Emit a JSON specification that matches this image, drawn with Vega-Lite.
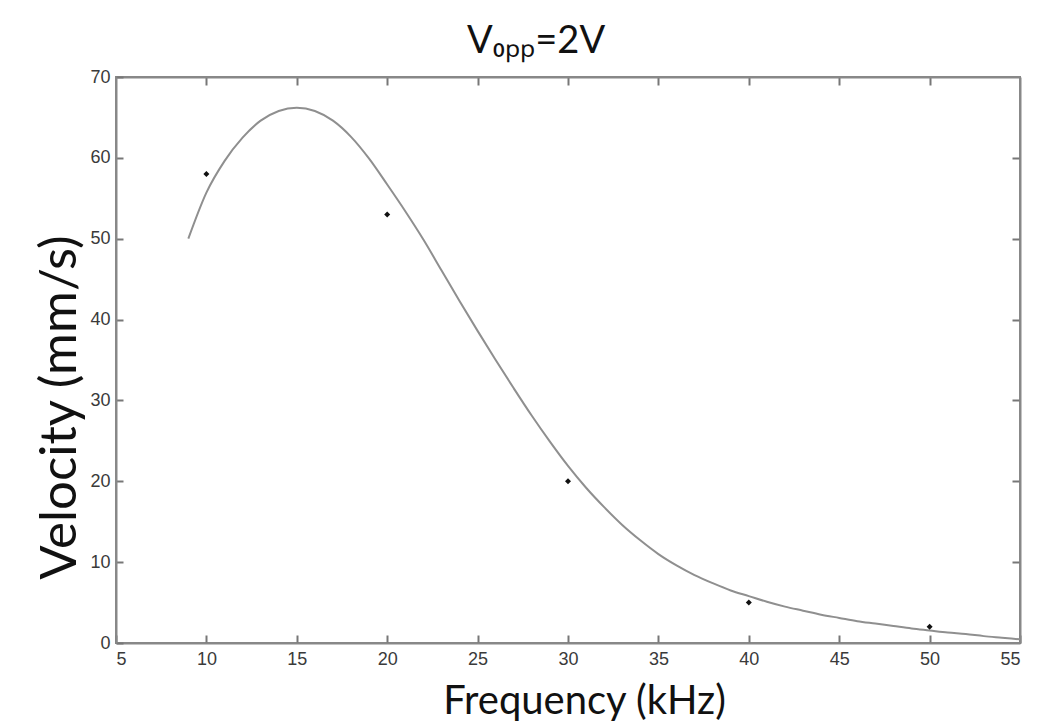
{
  "$schema": "https://vega.github.io/schema/vega-lite/v6.json",
  "width": 904,
  "height": 566,
  "autosize": {"type": "none"},
  "padding": {"left": 116, "top": 77, "right": 31, "bottom": 78},
  "background": "white",
  "title": {"text": "V₀ₚₚ=2V", "font": "Lato", "fontSize": 38, "fontWeight": "normal", "color": "#111", "offset": 12, "dx": -32, "dy": 5},
  "config": {"view": {"stroke": "#888", "strokeWidth": 2}},
  "datasets": {
    "curve": [
      {"f": 9, "v": 50.0}, {"f": 10, "v": 55.7}, {"f": 11, "v": 59.6}, {"f": 12, "v": 62.5}, {"f": 13, "v": 64.6},
      {"f": 14, "v": 65.8}, {"f": 15, "v": 66.2}, {"f": 16, "v": 65.8}, {"f": 17, "v": 64.6}, {"f": 18, "v": 62.6},
      {"f": 19, "v": 59.9}, {"f": 20, "v": 56.7}, {"f": 21, "v": 53.4}, {"f": 22, "v": 49.9}, {"f": 23, "v": 46.1},
      {"f": 24, "v": 42.3}, {"f": 25, "v": 38.6}, {"f": 26, "v": 35.0}, {"f": 27, "v": 31.5}, {"f": 28, "v": 28.1},
      {"f": 29, "v": 24.9}, {"f": 30, "v": 21.9}, {"f": 31, "v": 19.2}, {"f": 32, "v": 16.8}, {"f": 33, "v": 14.6},
      {"f": 34, "v": 12.7}, {"f": 35, "v": 11.0}, {"f": 36, "v": 9.6}, {"f": 37, "v": 8.4}, {"f": 38, "v": 7.4},
      {"f": 39, "v": 6.5}, {"f": 40, "v": 5.8}, {"f": 41, "v": 5.1}, {"f": 42, "v": 4.5}, {"f": 43, "v": 4.0},
      {"f": 44, "v": 3.5}, {"f": 45, "v": 3.1}, {"f": 46, "v": 2.7}, {"f": 47, "v": 2.4}, {"f": 48, "v": 2.1},
      {"f": 49, "v": 1.8}, {"f": 50, "v": 1.55}, {"f": 51, "v": 1.3}, {"f": 52, "v": 1.1}, {"f": 53, "v": 0.85},
      {"f": 54, "v": 0.65}, {"f": 55, "v": 0.45}
    ],
    "measured": [
      {"f": 10, "v": 58}, {"f": 20, "v": 53}, {"f": 30, "v": 20}, {"f": 40, "v": 5}, {"f": 50, "v": 2}
    ]
  },
  "layer": [
    {
      "data": {"name": "curve"},
      "mark": {"type": "line", "color": "#8f8f8f", "strokeWidth": 2, "interpolate": "monotone"},
      "encoding": {
        "x": {"field": "f", "type": "quantitative", "scale": {"domain": [5, 55], "nice": false},
          "axis": {"orient": "bottom", "values": [5,10,15,20,25,30,35,40,45,50,55], "grid": false, "ticks": true,
            "title": "Frequency (kHz)", "titleFont": "Lato", "titleFontSize": 40, "titleFontWeight": "normal", "titleColor": "#111",
            "titleX": 468, "titleY": 70, "titleBaseline": "alphabetic", "titleAlign": "center",
            "labelFont": "Liberation Sans", "labelFontSize": 18, "labelColor": "#3a3a3a", "labelPadding": 15,
            "domainColor": "#888", "domainWidth": 2, "tickColor": "#777", "tickWidth": 2, "tickSize": -8}},
        "y": {"field": "v", "type": "quantitative", "scale": {"domain": [0, 70], "nice": false},
          "axis": {"orient": "left", "values": [0,10,20,30,40,50,60,70], "grid": false,
            "title": "Velocity (mm/s)", "titleFont": "Lato", "titleFontSize": 51, "titleFontWeight": "normal", "titleColor": "#111",
            "titleX": -56, "titleY": 330, "titleBaseline": "middle", "titleAlign": "center", "titleAngle": -90,
            "labelFont": "Liberation Sans", "labelFontSize": 18, "labelColor": "#3a3a3a", "labelPadding": 13,
            "domainColor": "#888", "domainWidth": 2, "tickColor": "#777", "tickWidth": 2, "tickSize": -7}}
      }
    },
    {
      "data": {"name": "measured"},
      "mark": {"type": "point", "shape": "diamond", "filled": true, "color": "#111", "size": 36, "opacity": 1},
      "encoding": {
        "x": {"field": "f", "type": "quantitative",
          "axis": {"orient": "top", "values": [10,15,20,25,30,35,40,45,50], "labels": false, "title": null, "grid": false, "ticks": true,
            "domainColor": "#888", "domainWidth": 2, "tickColor": "#777", "tickWidth": 2, "tickSize": -8}},
        "y": {"field": "v", "type": "quantitative",
          "axis": {"orient": "right", "values": [10,20,30,40,50,60], "labels": false, "title": null, "grid": false,
            "domainColor": "#888", "domainWidth": 2, "tickColor": "#777", "tickWidth": 2, "tickSize": -8}}
      }
    }
  ],
  "resolve": {"axis": {"x": "independent", "y": "independent"}}
}
